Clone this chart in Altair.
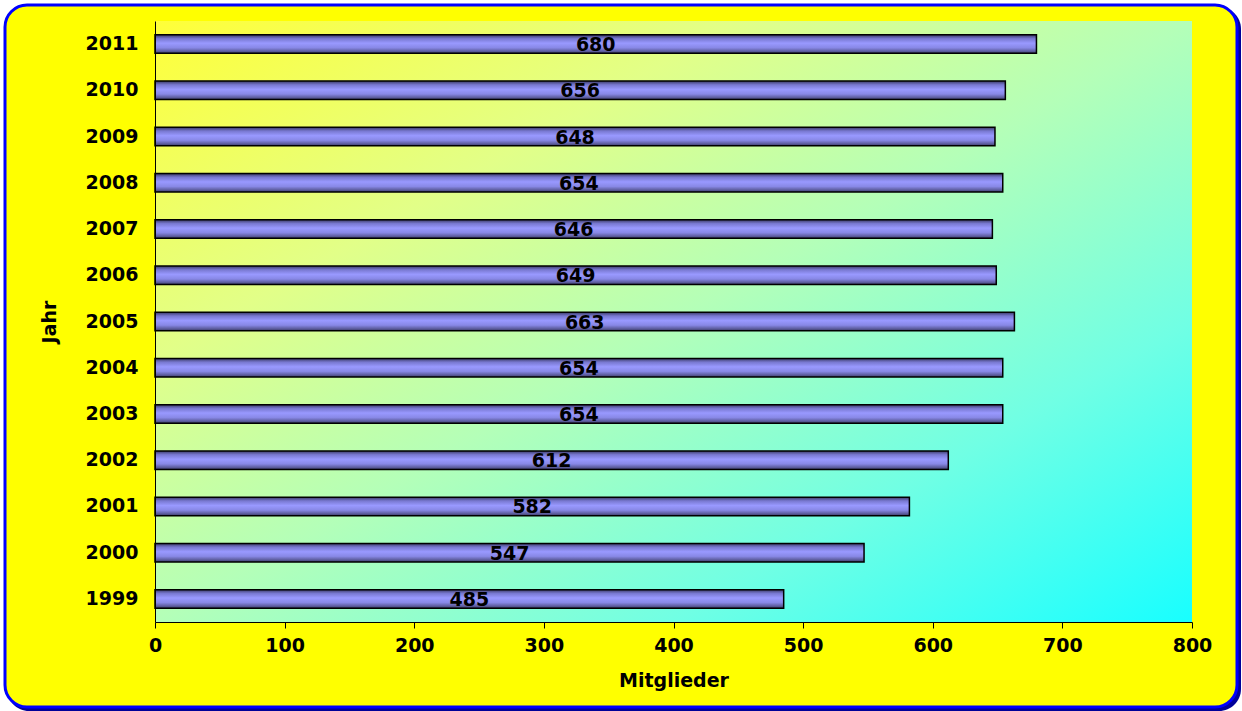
import altair as alt
import pandas as pd

years = ["1999", "2000", "2001", "2002", "2003", "2004", "2005", "2006", "2007", "2008", "2009", "2010", "2011"]
members = [485, 547, 582, 612, 654, 654, 663, 649, 646, 654, 648, 656, 680]

df = pd.DataFrame({"Jahr": years, "Mitglieder": members})
df["half"] = df["Mitglieder"] / 2

W, H = 1037, 601
FONT = "DejaVu Sans"

y_sort = list(reversed(years))

bg_df = pd.DataFrame({"k": [0]})

shadow = alt.Chart(bg_df).mark_rect(
    fill="#000099", cornerRadius=22, clip=False
).encode(
    x=alt.value(-148), x2=alt.value(W + 49), y=alt.value(-14), y2=alt.value(H + 89)
)

frame = alt.Chart(bg_df).mark_rect(
    fill="#FFFF00", stroke="#0000FF", strokeWidth=3, cornerRadius=22, clip=False
).encode(
    x=alt.value(-150), x2=alt.value(W + 45), y=alt.value(-16), y2=alt.value(H + 85)
)

plotbg = alt.Chart(bg_df).mark_rect(
    fill=alt.Gradient(
        gradient="linear", x1=0, y1=0, x2=1, y2=1,
        stops=[
            alt.GradientStop(color="#FFFF38", offset=0),
            alt.GradientStop(color="#E2FF88", offset=0.28),
            alt.GradientStop(color="#B4FFB8", offset=0.5),
            alt.GradientStop(color="#70FFE4", offset=0.75),
            alt.GradientStop(color="#18FFFF", offset=1),
        ],
    )
).encode(
    x=alt.value(0), x2=alt.value(W), y=alt.value(0), y2=alt.value(H)
)

x_enc = alt.X(
    "Mitglieder:Q",
    scale=alt.Scale(domain=[0, 800], nice=False),
    axis=alt.Axis(
        values=[0, 100, 200, 300, 400, 500, 600, 700, 800],
        title="Mitglieder", grid=False, domainColor="black", tickColor="black",
        tickSize=6, labelPadding=8, labelFont=FONT, labelFontSize=19,
        labelFontWeight="bold", labelColor="black", titleFont=FONT,
        titleFontSize=19, titleFontWeight="bold", titleColor="black",
        titlePadding=16, labelFlush=False, zindex=1,
    ),
)
y_enc = alt.Y(
    "Jahr:N",
    sort=y_sort,
    scale=alt.Scale(paddingInner=0.6, paddingOuter=0.3),
    axis=alt.Axis(
        title="Jahr", ticks=False, domainColor="black", labelPadding=17,
        labelFont=FONT, labelFontSize=19, labelFontWeight="bold",
        labelColor="black", titleFont=FONT, titleFontSize=19,
        titleFontWeight="bold", titleColor="black", titlePadding=26,
        zindex=1,
    ),
)

bars = alt.Chart(df).mark_bar(
    fill=alt.Gradient(
        gradient="linear", x1=0, y1=0, x2=0, y2=1,
        stops=[
            alt.GradientStop(color="#3A3A66", offset=0),
            alt.GradientStop(color="#7878D0", offset=0.2),
            alt.GradientStop(color="#9999FF", offset=0.45),
            alt.GradientStop(color="#8888E6", offset=0.7),
            alt.GradientStop(color="#5A5A99", offset=0.9),
            alt.GradientStop(color="#3A3A66", offset=1),
        ],
    ),
    stroke="black", strokeWidth=1.5,
).encode(x=x_enc, y=y_enc)

labels = alt.Chart(df).mark_text(
    font=FONT, fontSize=19, fontWeight="bold", color="black",
    align="center", baseline="middle", dy=1,
).encode(
    x=alt.X("half:Q", scale=alt.Scale(domain=[0, 800], nice=False)),
    y=alt.Y("Jahr:N", sort=y_sort),
    text="Mitglieder:Q",
)

chart = alt.layer(shadow, frame, plotbg, bars, labels).properties(
    width=W, height=H,
    autosize=alt.AutoSizeParams(type="none"),
    padding={"left": 155, "top": 21, "right": 50, "bottom": 89},
    background="white",
).configure_view(stroke=None)

chart.save("out.html", embed_options={"renderer": "svg", "actions": False})
